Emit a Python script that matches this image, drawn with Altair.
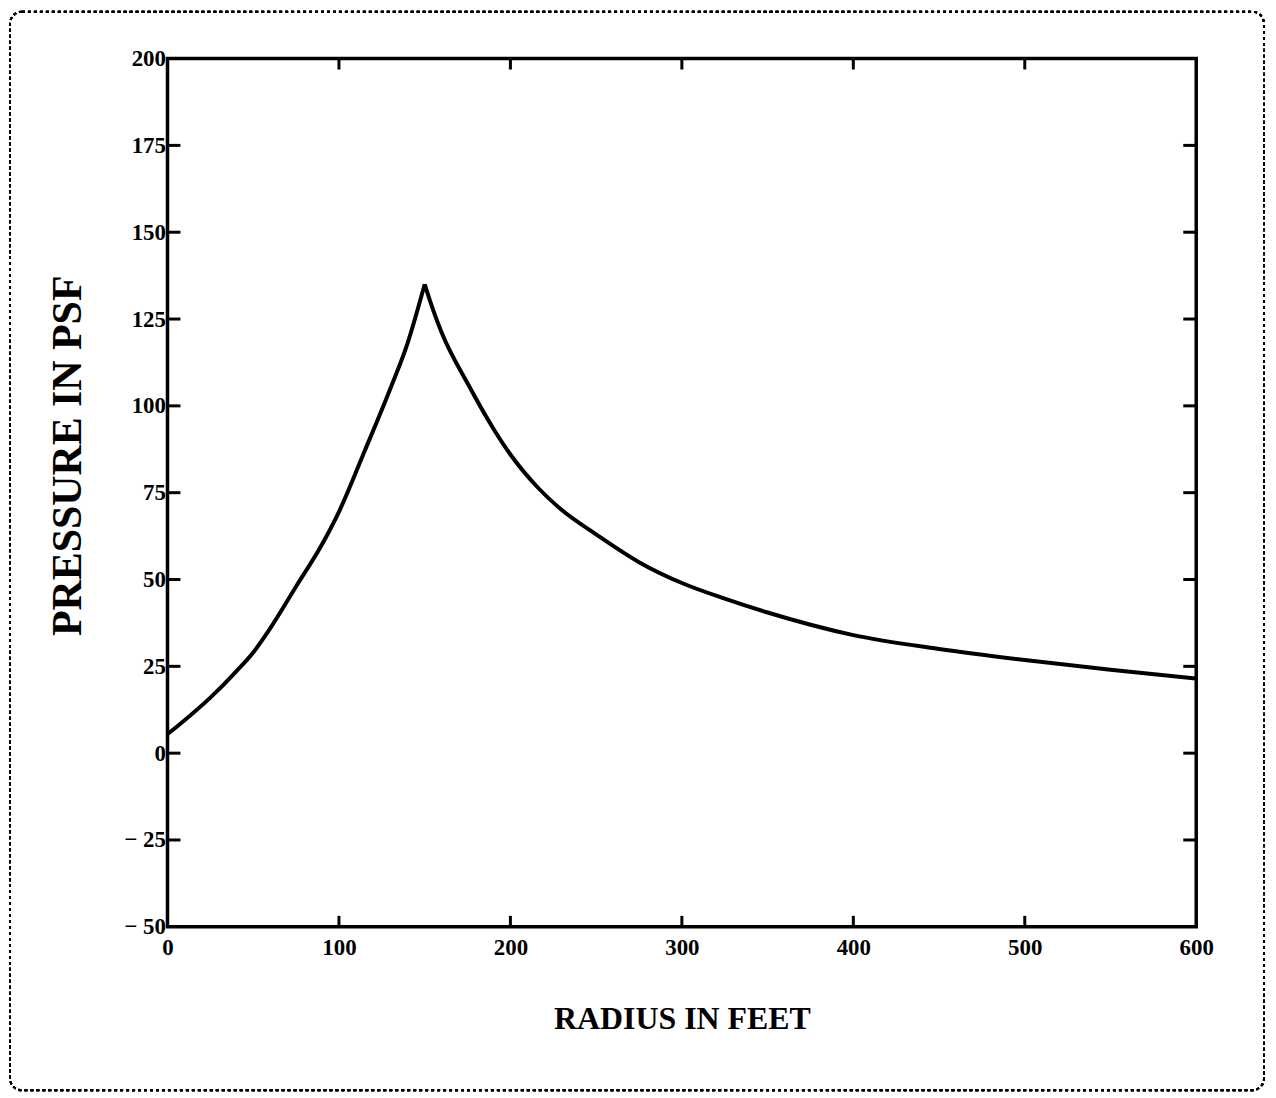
import altair as alt
import pandas as pd

radius = [0, 10, 25, 40, 50, 60, 75, 90, 100, 115, 130, 140, 150,
          150, 155, 160, 175, 190, 200, 215, 230, 250, 275, 300, 325, 350, 400, 450, 500, 550, 600]
pressure = [5.5, 9.5, 16, 23.5, 29, 36, 48, 60, 69.5, 87, 105, 118, 135,
            135, 127.5, 121, 106.5, 93.5, 86, 77, 70, 63, 55, 49, 44.5, 40.5, 34, 30, 26.8, 24, 21.5]
side = ["rise"] * 13 + ["fall"] * 18
x_ticks = [100, 200, 300, 400, 500]
y_ticks = [-25, 0, 25, 50, 75, 100, 125, 150, 175]

W, H = 1032, 871
FONT = "Liberation Serif"

df = pd.DataFrame({"r": radius, "p": pressure, "side": side})
xt = pd.DataFrame({"x": x_ticks})
yt = pd.DataFrame({"y": y_ticks})

xs = alt.Scale(domain=[0, 600], nice=False, zero=False)
ys = alt.Scale(domain=[-50, 200], nice=False, zero=False)

line = alt.Chart(df).mark_line(color="black", strokeWidth=4, interpolate="monotone").encode(
    x=alt.X("r:Q", scale=xs,
            axis=alt.Axis(title="RADIUS IN FEET", values=[0, 100, 200, 300, 400, 500, 600],
                          ticks=False, domain=False, grid=False, labelFontSize=23,
                          labelFont=FONT, labelFontWeight="bold", labelPadding=10,
                          labelColor="black", labelFlush=False,
                          titleFont=FONT, titleFontSize=32, titleFontWeight="bold",
                          titleY=92, titleBaseline="middle", titleColor="black")),
    y=alt.Y("p:Q", scale=ys,
            axis=alt.Axis(title="PRESSURE IN PSF", values=[-50, -25, 0, 25, 50, 75, 100, 125, 150, 175, 200],
                          ticks=False, domain=False, grid=False, labelFontSize=23,
                          labelFont=FONT, labelFontWeight="bold", labelPadding=2,
                          labelColor="black", labelFlush=False,
                          labelExpr="datum.value < 0 ? '\u2212 ' + abs(datum.value) : datum.label",
                          titleFont=FONT, titleFontSize=42, titleFontWeight="bold",
                          titleX=-100, titleY=398, titleAngle=-90,
                          titleAlign="center", titleBaseline="middle", titleColor="black")),
    detail="side:N",
)

left_ticks = alt.Chart(yt).mark_rule(color="black", strokeWidth=3).encode(
    y=alt.Y("y:Q", scale=ys), x=alt.value(0), x2=alt.value(13))
right_ticks = alt.Chart(yt).mark_rule(color="black", strokeWidth=3).encode(
    y=alt.Y("y:Q", scale=ys), x=alt.value(W - 13), x2=alt.value(W))
bottom_ticks = alt.Chart(xt).mark_rule(color="black", strokeWidth=3).encode(
    x=alt.X("x:Q", scale=xs), y=alt.value(H - 11), y2=alt.value(H))
top_ticks = alt.Chart(xt).mark_rule(color="black", strokeWidth=3).encode(
    x=alt.X("x:Q", scale=xs), y=alt.value(0), y2=alt.value(11))

frame = alt.Chart(xt).mark_rect(fill=None, stroke="black", strokeWidth=2,
                                strokeDash=[3, 3], cornerRadius=12).encode(
    x=alt.value(-158), x2=alt.value(1100), y=alt.value(-47), y2=alt.value(1035))

chart = alt.layer(frame, line, left_ticks, right_ticks, bottom_ticks, top_ticks).properties(
    width=W, height=H,
    background="white",
    padding={"left": 160, "top": 49, "right": 72, "bottom": 166},
    autosize=alt.AutoSizeParams(type="none"),
).configure_view(stroke="black", strokeWidth=3.5)

chart.save("out.html", embed_options={"renderer": "svg", "actions": False})
